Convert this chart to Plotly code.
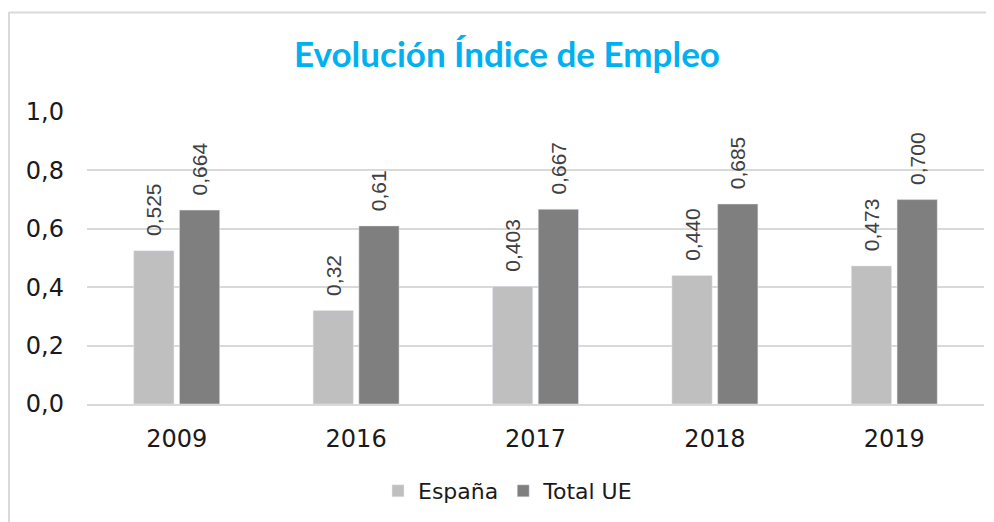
import plotly.graph_objects as go

years = ["2009", "2016", "2017", "2018", "2019"]
espana = [0.525, 0.32, 0.403, 0.440, 0.473]
total_ue = [0.664, 0.61, 0.667, 0.685, 0.700]
espana_labels = ["0,525", "0,32", "0,403", "0,440", "0,473"]
total_ue_labels = ["0,664", "0,61", "0,667", "0,685", "0,700"]
y_ticks = [0.0, 0.2, 0.4, 0.6, 0.8, 1.0]
y_tick_labels = ["0,0", "0,2", "0,4", "0,6", "0,8", "1,0"]

W, H = 994, 522
# page body has an 8px offset; coordinates below are in figure pixels
OFF = 8
ML, MR, MT, MB = 87 - OFF, 26 - OFF, 112 - OFF, 118 + OFF

PAD = "\u00a0\u00a0"
label_font = dict(family="Liberation Sans, Arial", size=21, color="#404040")
tick_font = dict(family="DejaVu Sans", size=24, color="#1a1a1a")

fig = go.Figure()
fig.add_bar(x=years, y=espana, name="España", marker_color="#bfbfbf",
            text=[PAD + s for s in espana_labels], textposition="outside",
            textangle=-90, textfont=label_font, cliponaxis=False,
            constraintext="none")
fig.add_bar(x=years, y=total_ue, name="Total UE", marker_color="#7f7f7f",
            text=[PAD + s for s in total_ue_labels], textposition="outside",
            textangle=-90, textfont=label_font, cliponaxis=False,
            constraintext="none")

pw = W - ML - MR
ph = H - MT - MB
def px_x(px):
    return (px - OFF - ML) / pw
def px_y(py):
    return (H - MB - (py - OFF)) / ph

fig.update_layout(
    width=W, height=H,
    margin=dict(l=ML, r=MR, t=MT, b=MB, pad=0),
    paper_bgcolor="white", plot_bgcolor="white",
    barmode="group", bargap=0.49, bargroupgap=0.12,
    title=dict(text="<b>Evolución Índice de Empleo</b>", x=(507 - OFF) / W,
               xanchor="center", y=1 - (55 - OFF) / H, yanchor="middle",
               font=dict(family="Lato, Open Sans", size=35, color="#00b0f0")),
    font=dict(family="DejaVu Sans", size=22, color="#1a1a1a"),
    yaxis=dict(range=[0, 1], tickvals=y_ticks, ticktext=y_tick_labels,
               showgrid=True, gridcolor="#d9d9d9", gridwidth=1.5,
               zeroline=False, showline=False, ticks="", ticklabelstandoff=22,
               tickfont=tick_font),
    xaxis=dict(showline=True, linecolor="#d9d9d9", linewidth=2, ticks="",
               ticklabelstandoff=12, tickfont=tick_font),
    legend=dict(orientation="h", x=(508 - OFF - ML) / pw, xanchor="center",
                y=px_y(491), yanchor="middle",
                font=dict(family="DejaVu Sans", size=22, color="#1a1a1a"),
                itemwidth=30, traceorder="normal"),
    showlegend=True,
    shapes=[
        dict(type="line", xref="paper", yref="paper",
             x0=px_x(9), x1=px_x(9), y0=px_y(12), y1=px_y(540),
             line=dict(color="#d9d9d9", width=2)),
        dict(type="line", xref="paper", yref="paper",
             x0=px_x(9), x1=px_x(1010), y0=px_y(12.5), y1=px_y(12.5),
             line=dict(color="#d9d9d9", width=2)),
    ],
)

fig.write_html("out.html")
